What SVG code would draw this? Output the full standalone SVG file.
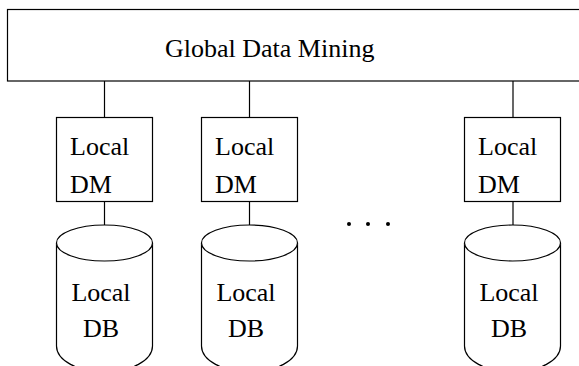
<svg xmlns="http://www.w3.org/2000/svg" width="579" height="366" viewBox="0 0 579 366">
<style>
.s{fill:#fff;stroke:#000;stroke-width:1.2}
.c{fill:none;stroke:#000;stroke-width:1.2}
text{font-family:"Liberation Serif","Times New Roman",serif;font-size:26px;fill:#000}
.m{text-anchor:middle}
</style>
<defs>
<g id="cyl">
<path class="s" d="M-48,0 L-48,103 A48,26 0 0 0 48,103 L48,0"/>
<ellipse class="s" cx="0" cy="0" rx="48" ry="18"/>
</g>
</defs>
<g id="connectors">
<line class="c" x1="104.5" y1="81" x2="104.5" y2="117"/>
<line class="c" x1="249.5" y1="81" x2="249.5" y2="117"/>
<line class="c" x1="513" y1="81" x2="513" y2="117"/>
<line class="c" x1="104.5" y1="201" x2="104.5" y2="225"/>
<line class="c" x1="249.5" y1="201" x2="249.5" y2="225"/>
<line class="c" x1="513" y1="201" x2="513" y2="225"/>
</g>
<g id="global">
<rect class="s" x="7.5" y="9.5" width="600" height="71.5"/>
<text x="165" y="57">Global Data Mining</text>
</g>
<g id="dm1">
<rect class="s" x="56.5" y="117.5" width="96" height="84"/>
<text x="70" y="155">Local</text>
<text x="70" y="193">DM</text>
</g>
<g id="dm2">
<rect class="s" x="201.5" y="117.5" width="96" height="84"/>
<text x="215" y="155">Local</text>
<text x="215" y="193">DM</text>
</g>
<g id="dm3">
<rect class="s" x="464.5" y="117.5" width="96" height="84"/>
<text x="478" y="155">Local</text>
<text x="478" y="193">DM</text>
</g>
<g id="db1">
<use href="#cyl" x="104.5" y="243"/>
<text class="m" x="101" y="301">Local</text>
<text class="m" x="101" y="337">DB</text>
</g>
<g id="db2">
<use href="#cyl" x="249.5" y="243"/>
<text class="m" x="246" y="301">Local</text>
<text class="m" x="246" y="337">DB</text>
</g>
<g id="db3">
<use href="#cyl" x="512.5" y="243"/>
<text class="m" x="509" y="301">Local</text>
<text class="m" x="509" y="337">DB</text>
</g>
<g id="dots">
<circle cx="349" cy="224" r="2"/>
<circle cx="368" cy="224" r="2"/>
<circle cx="388" cy="224" r="2"/>
</g>
</svg>
